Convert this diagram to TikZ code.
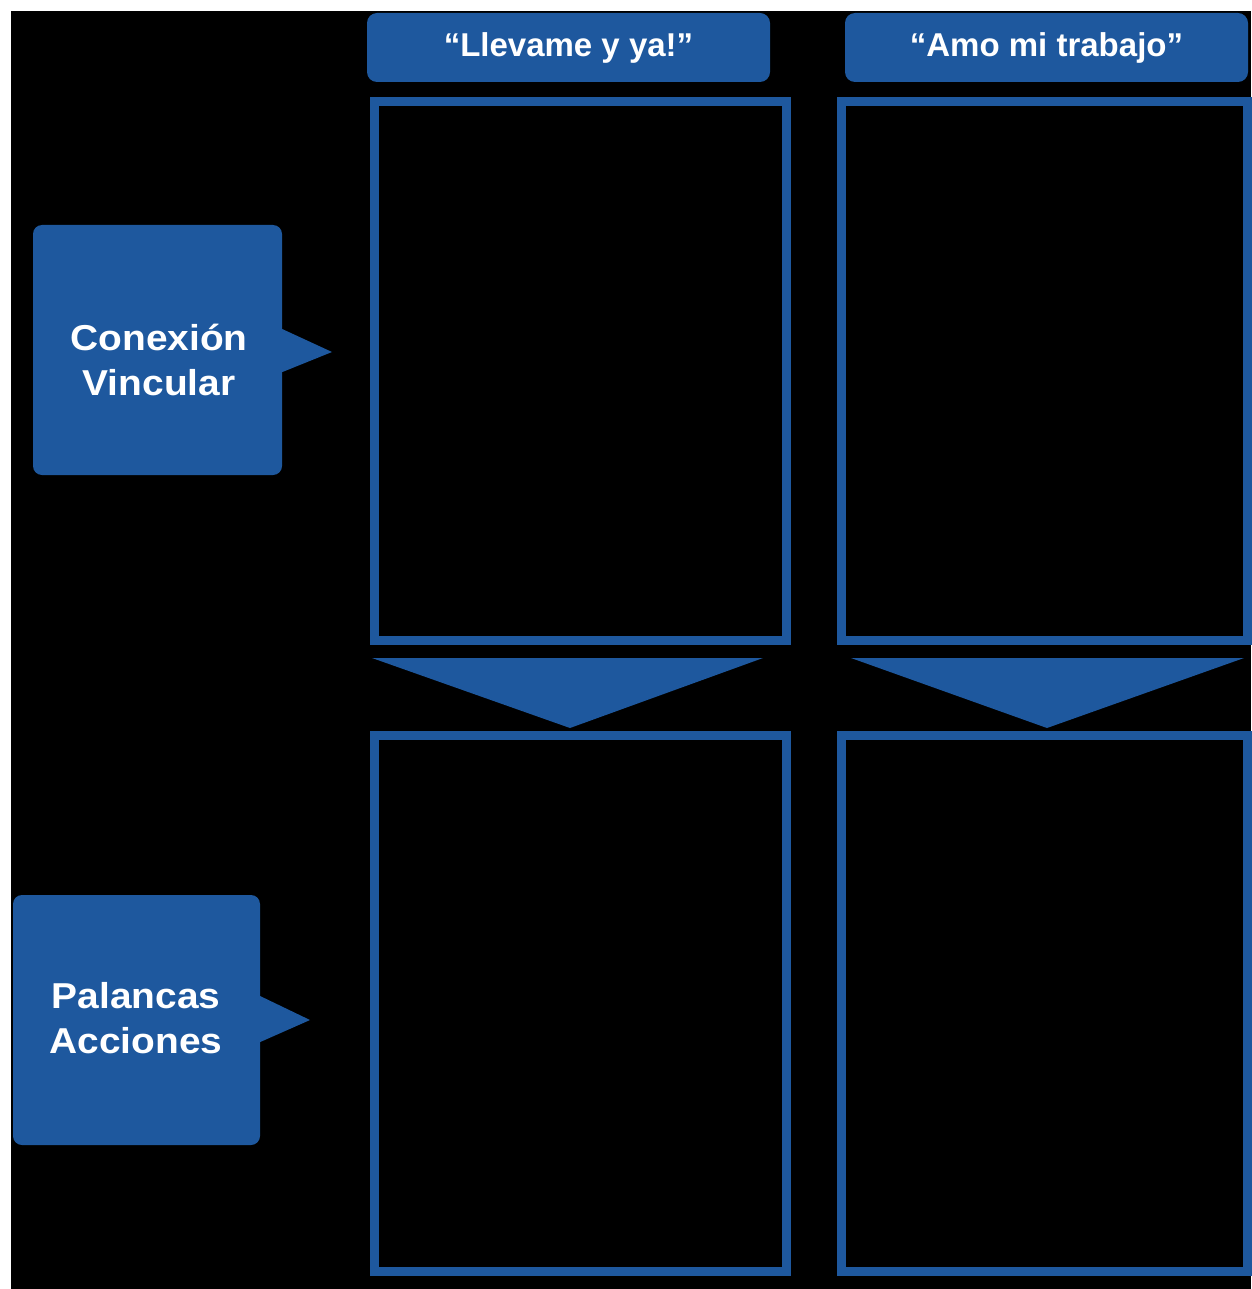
\documentclass[tikz,border=0pt]{standalone}
\usepackage{fontspec}
\setmainfont{Liberation Sans}
\newfontfamily\sidefont[FakeStretch=1.08]{Liberation Sans}
\definecolor{blu}{RGB}{30,88,158}
\begin{document}
\begin{tikzpicture}[x=1pt,y=-1pt,
  frame/.style={draw=blu,line width=9pt,fill=black,inner sep=0pt},
  lbl/.style={fill=blu,rounded corners=10pt,inner sep=0pt,text=white,font=\bfseries\fontsize{33}{40}\selectfont},
  side/.style={fill=blu,rounded corners=9pt,inner sep=0pt},
  sidetxt/.style={text=white,font=\sidefont\bfseries\fontsize{36}{45}\selectfont,align=center,inner sep=0pt},
  tri/.style={fill=blu}]
\path[use as bounding box] (0,0) rectangle (1251,1289);
\fill[black] (11,11) rectangle (1251,1289);
% column headers
\node[lbl, minimum width=403, minimum height=69] (h1) at (568.5,47.5) {“Llevame y ya!”};
\node[lbl, minimum width=403, minimum height=69] (h2) at (1046.5,47.5) {“Amo mi trabajo”};
% frames
\node[frame, minimum width=412, minimum height=538] (ul) at (580,371) {};
\node[frame, minimum width=412, minimum height=536] (ll) at (580,1003) {};
\node[frame, minimum width=406, minimum height=538] (ur) at (1044,371) {};
\node[frame, minimum width=406, minimum height=536] (lr) at (1044,1003) {};
% down arrows
\fill[tri] (372,658) -- (763,658) -- (570,728) -- cycle;
\fill[tri] (851,658) -- (1244,658) -- (1047,728) -- cycle;
% side labels
\node[side, minimum width=249, minimum height=250] (s1) at (157.5,350) {};
\fill[tri] (280,328) -- (332,352) -- (280,373) -- cycle;
\node[sidetxt] (t1) at (159,360) {Conexión\\Vincular};
\node[side, minimum width=247, minimum height=250] (s2) at (136.5,1020) {};
\fill[tri] (258,995) -- (310,1020) -- (258,1043) -- cycle;
\node[sidetxt] (t2) at (136,1018) {Palancas\\Acciones};
\end{tikzpicture}
\end{document}
